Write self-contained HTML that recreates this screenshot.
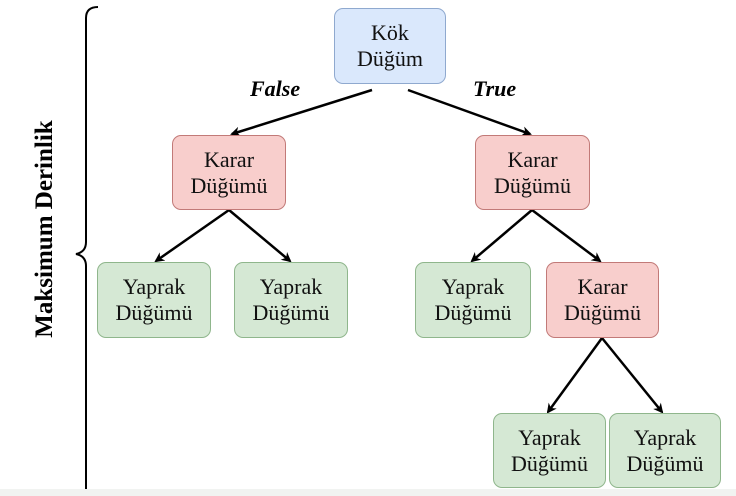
<!DOCTYPE html>
<html><head><style>
body{margin:0;width:736px;height:496px;background:#fff;position:relative;overflow:hidden;font-family:"Liberation Serif",serif;}
.n{position:absolute;box-sizing:border-box;border-radius:9px;border:1.5px solid;display:flex;align-items:center;justify-content:center;text-align:center;font-size:22px;line-height:26px;color:#111;}
.b{background:#dae8fc;border-color:#8fa9cf}
.r{background:#f8cecc;border-color:#c27a78}
.g{background:#d5e8d4;border-color:#8fb68c}
.lbl{position:absolute;font-weight:bold;font-style:italic;font-size:22px;}
</style></head><body>
<svg width="736" height="496" style="position:absolute;left:0;top:0">
<defs><marker id="a" markerWidth="10" markerHeight="10" refX="8" refY="5" orient="auto" markerUnits="userSpaceOnUse"><path d="M0,0 L10,5 L0,10 L3,5z" fill="#000"/></marker></defs>
<g stroke="#000" stroke-width="2.5" fill="none" marker-end="url(#a)">
<line x1="372" y1="90" x2="232" y2="134"/>
<line x1="408" y1="90" x2="530" y2="134"/>
<line x1="229" y1="210" x2="156" y2="261"/>
<line x1="229" y1="210" x2="290" y2="261"/>
<line x1="532" y1="210" x2="472" y2="261"/>
<line x1="532" y1="210" x2="600" y2="261"/>
<line x1="602" y1="338" x2="548" y2="412"/>
<line x1="602" y1="338" x2="662" y2="412"/>
</g>
<path d="M98,7 Q86,7 86,18 L86,242 Q86,252 76,254 Q86,256 86,266 L86,496" stroke="#000" stroke-width="2" fill="none"/>
<rect x="0" y="489" width="736" height="7" fill="#f1f3f1"/>
</svg>
<div style="position:absolute;left:45px;top:229px;transform:translate(-50%,-50%) rotate(-90deg);font-weight:bold;font-size:25px;white-space:nowrap">Maksimum Derinlik</div>
<div class="lbl" style="left:250px;top:76px">False</div>
<div class="lbl" style="left:473px;top:76px">True</div>
<div class="n b" style="left:334px;top:8px;width:112px;height:76px">Kök<br>Düğüm</div>
<div class="n r" style="left:172px;top:135px;width:114px;height:75px">Karar<br>Düğümü</div>
<div class="n r" style="left:475px;top:135px;width:115px;height:75px">Karar<br>Düğümü</div>
<div class="n g" style="left:97px;top:262px;width:114px;height:76px">Yaprak<br>Düğümü</div>
<div class="n g" style="left:234px;top:262px;width:114px;height:76px">Yaprak<br>Düğümü</div>
<div class="n g" style="left:415px;top:262px;width:116px;height:76px">Yaprak<br>Düğümü</div>
<div class="n r" style="left:546px;top:262px;width:113px;height:76px">Karar<br>Düğümü</div>
<div class="n g" style="left:493px;top:413px;width:113px;height:75px">Yaprak<br>Düğümü</div>
<div class="n g" style="left:609px;top:413px;width:112px;height:75px">Yaprak<br>Düğümü</div>
</body></html>
